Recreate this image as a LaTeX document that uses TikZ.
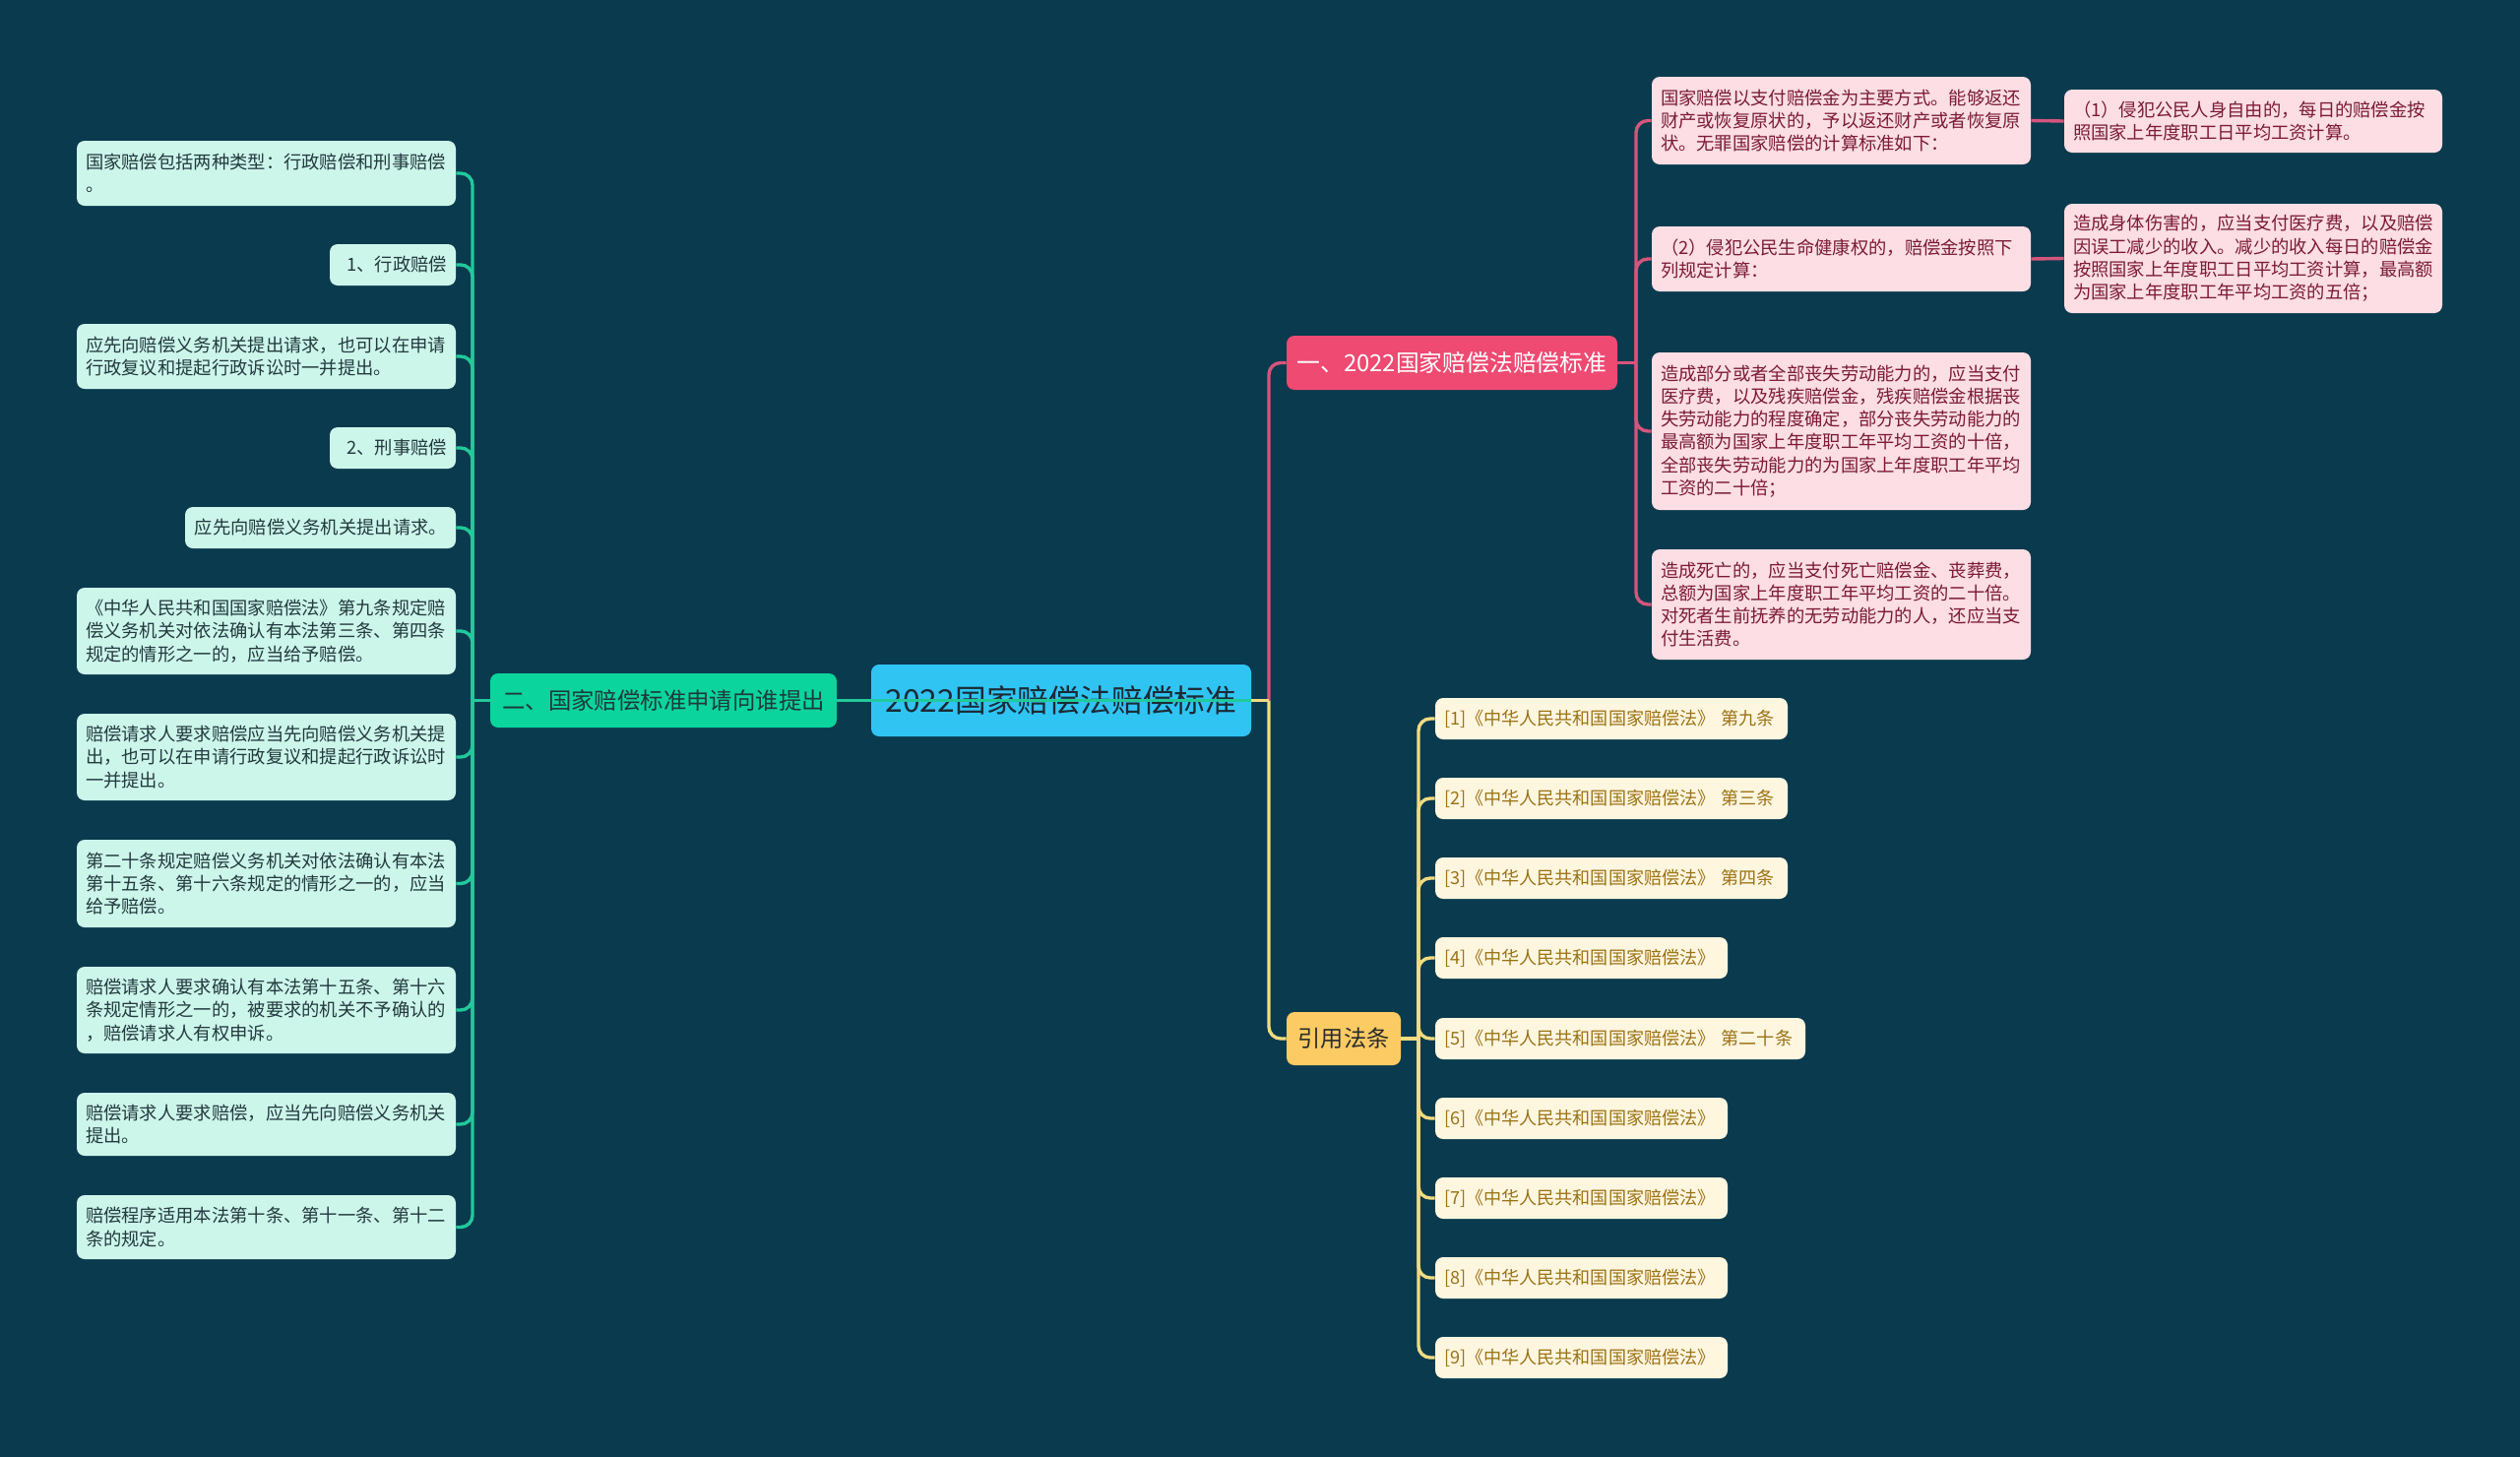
\documentclass[tikz,border=0pt]{standalone}
\usepackage{fontspec}
\setmainfont{Noto Sans CJK SC}
\definecolor{bg}{HTML}{0A3A4D}
\definecolor{rootfill}{HTML}{30C4F3}
\definecolor{roottext}{HTML}{1B2B36}
\definecolor{gbranch}{HTML}{0BD49C}
\definecolor{gbtext}{HTML}{1E3A3A}
\definecolor{gline}{HTML}{22C99B}
\definecolor{gleaf}{HTML}{CDF6EB}
\definecolor{gtext}{HTML}{223A3E}
\definecolor{pbranch}{HTML}{EE4A72}
\definecolor{pleaf}{HTML}{FCDEE4}
\definecolor{ptext}{HTML}{7B1B36}
\definecolor{pline}{HTML}{D5557C}
\definecolor{ybranch}{HTML}{FCCB63}
\definecolor{ybtext}{HTML}{2B2B2B}
\definecolor{yleaf}{HTML}{FFF6DF}
\definecolor{ytext}{HTML}{9A7316}
\definecolor{yline}{HTML}{F1DB82}
\newcommand\bx[7]{%
  \pgfmathsetmacro\bxw{(#5-#3)*0.5}%
  \pgfmathsetmacro\bxh{(#6-#4)*0.5}%
  \pgfmathsetmacro\bxt{(#5-#3)*0.5-9}%
  \node[#2, minimum width=\bxw pt, minimum height=\bxh pt, text width=\bxt pt] (#1) at ({(#3+#5)/2},{(#4+#6)/2}) {#7};%
}
\begin{document}
\begin{tikzpicture}[x=0.5pt,y=-0.5pt,
  box/.style={rounded corners=4pt, inner xsep=4.5pt, inner ysep=0pt, font=\fontsize{9.15}{11.65}\selectfont, align=left},
  leafG/.style={box, fill=gleaf, text=gtext},
  leafGr/.style={leafG, align=right},
  leafP/.style={box, fill=pleaf, text=ptext},
  leafY/.style={box, fill=yleaf, text=ytext, font=\fontsize{9.05}{11.65}\selectfont},
  rootbox/.style={box, fill=rootfill, text=roottext, align=center, font=\fontsize{15.9}{18}\selectfont},
  brG/.style={box, fill=gbranch, text=gbtext, align=center, font=\fontsize{11.7}{14}\selectfont},
  brP/.style={box, fill=pbranch, text=white, align=center, font=\fontsize{11.9}{14}\selectfont},
  brY/.style={box, fill=ybranch, text=ybtext, align=center, font=\fontsize{11.6}{14}\selectfont},
  gconn/.style={draw=gline, line width=1.7pt},
  pconn/.style={draw=pline, line width=1.7pt},
  yconn/.style={draw=yline, line width=1.7pt},
]
\useasboundingbox (0,0) rectangle (2560,1479);
\fill[bg] (-20,-20) rectangle (2580,1500);

% root and branches
\bx{root}{rootbox}{885}{675}{1271}{748}{2022国家赔偿法赔偿标准}
\bx{br}{brG}{498}{684}{850}{739}{二、国家赔偿标准申请向谁提出}
\bx{pk}{brP}{1307}{341}{1643}{396}{一、2022国家赔偿法赔偿标准}
\bx{yf}{brY}{1307}{1028}{1423}{1082}{引用法条}

% left leaves
\bx{L1}{leafG}{78}{143}{463}{209}{国家赔偿包括两种类型：行政赔偿和刑事赔偿\\。}
\bx{L2}{leafGr}{335}{248}{463}{290}{1、行政赔偿}
\bx{L3}{leafG}{78}{329}{463}{395}{应先向赔偿义务机关提出请求，也可以在申请\\行政复议和提起行政诉讼时一并提出。}
\bx{L4}{leafGr}{335}{434}{463}{476}{2、刑事赔偿}
\bx{L5}{leafGr}{188}{515}{463}{557}{应先向赔偿义务机关提出请求。}
\bx{L6}{leafG}{78}{597}{463}{685}{《中华人民共和国国家赔偿法》第九条规定赔\\偿义务机关对依法确认有本法第三条、第四条\\规定的情形之一的，应当给予赔偿。}
\bx{L7}{leafG}{78}{725}{463}{813}{赔偿请求人要求赔偿应当先向赔偿义务机关提\\出，也可以在申请行政复议和提起行政诉讼时\\一并提出。}
\bx{L8}{leafG}{78}{853}{463}{942}{第二十条规定赔偿义务机关对依法确认有本法\\第十五条、第十六条规定的情形之一的，应当\\给予赔偿。}
\bx{L9}{leafG}{78}{982}{463}{1070}{赔偿请求人要求确认有本法第十五条、第十六\\条规定情形之一的，被要求的机关不予确认的\\，赔偿请求人有权申诉。}
\bx{L10}{leafG}{78}{1110}{463}{1174}{赔偿请求人要求赔偿，应当先向赔偿义务机关\\提出。}
\bx{L11}{leafG}{78}{1214}{463}{1279}{赔偿程序适用本法第十条、第十一条、第十二\\条的规定。}

% pink leaves
\bx{P1}{leafP}{1678}{78}{2063}{167}{国家赔偿以支付赔偿金为主要方式。能够返还\\财产或恢复原状的，予以返还财产或者恢复原\\状。无罪国家赔偿的计算标准如下：}
\bx{P2}{leafP}{1678}{230}{2063}{296}{（2）侵犯公民生命健康权的，赔偿金按照下\\列规定计算：}
\bx{P3}{leafP}{1678}{358}{2063}{518}{造成部分或者全部丧失劳动能力的，应当支付\\医疗费，以及残疾赔偿金，残疾赔偿金根据丧\\失劳动能力的程度确定，部分丧失劳动能力的\\最高额为国家上年度职工年平均工资的十倍，\\全部丧失劳动能力的为国家上年度职工年平均\\工资的二十倍；}
\bx{P4}{leafP}{1678}{558}{2063}{670}{造成死亡的，应当支付死亡赔偿金、丧葬费，\\总额为国家上年度职工年平均工资的二十倍。\\对死者生前抚养的无劳动能力的人，还应当支\\付生活费。}
\bx{Q1}{leafP}{2097}{91}{2481}{155}{（1）侵犯公民人身自由的，每日的赔偿金按\\照国家上年度职工日平均工资计算。}
\bx{Q2}{leafP}{2097}{207}{2481}{318}{造成身体伤害的，应当支付医疗费，以及赔偿\\因误工减少的收入。减少的收入每日的赔偿金\\按照国家上年度职工日平均工资计算，最高额\\为国家上年度职工年平均工资的五倍；}

% yellow leaves
\bx{R1}{leafY}{1458}{709}{1816}{751}{[1]《中华人民共和国国家赔偿法》\ 第九条}
\bx{R2}{leafY}{1458}{790}{1816}{832}{[2]《中华人民共和国国家赔偿法》\ 第三条}
\bx{R3}{leafY}{1458}{871}{1816}{913}{[3]《中华人民共和国国家赔偿法》\ 第四条}
\bx{R4}{leafY}{1458}{952}{1755}{994}{[4]《中华人民共和国国家赔偿法》}
\bx{R5}{leafY}{1458}{1034}{1834}{1076}{\mbox{[5]《中华人民共和国国家赔偿法》\ 第二十条}}
\bx{R6}{leafY}{1458}{1115}{1755}{1157}{[6]《中华人民共和国国家赔偿法》}
\bx{R7}{leafY}{1458}{1196}{1755}{1238}{[7]《中华人民共和国国家赔偿法》}
\bx{R8}{leafY}{1458}{1277}{1755}{1319}{[8]《中华人民共和国国家赔偿法》}
\bx{R9}{leafY}{1458}{1358}{1755}{1400}{[9]《中华人民共和国国家赔偿法》}

% connectors
\coordinate (gsp) at (480,711.5);
\coordinate (psp) at (1289,711.5);
\coordinate (pksp) at (1662,368.5);
\coordinate (ysp) at (1441,1055);

\draw[gconn] (br.west) -- (gsp);
\foreach \k in {1,...,11} { \draw[gconn, rounded corners=6pt] (gsp) |- (L\k.east); }
\draw[pconn, rounded corners=6pt] (psp) |- (pk.west);
\draw[pconn] (pk.east) -- (pksp);
\foreach \k in {1,...,4} { \draw[pconn, rounded corners=6pt] (pksp) |- (P\k.west); }
\draw[pconn] (P1.east) -- (Q1.west);
\draw[pconn] (P2.east) -- (Q2.west);
\draw[yconn] (root.east) -- (psp);
\draw[yconn, rounded corners=6pt] (psp) |- (yf.west);
\draw[yconn] (yf.east) -- (ysp);
\foreach \k in {1,...,9} { \draw[yconn, rounded corners=6pt] (ysp) |- (R\k.west); }
\draw[gconn] (br.east) -- (root.east);
\end{tikzpicture}
\end{document}
